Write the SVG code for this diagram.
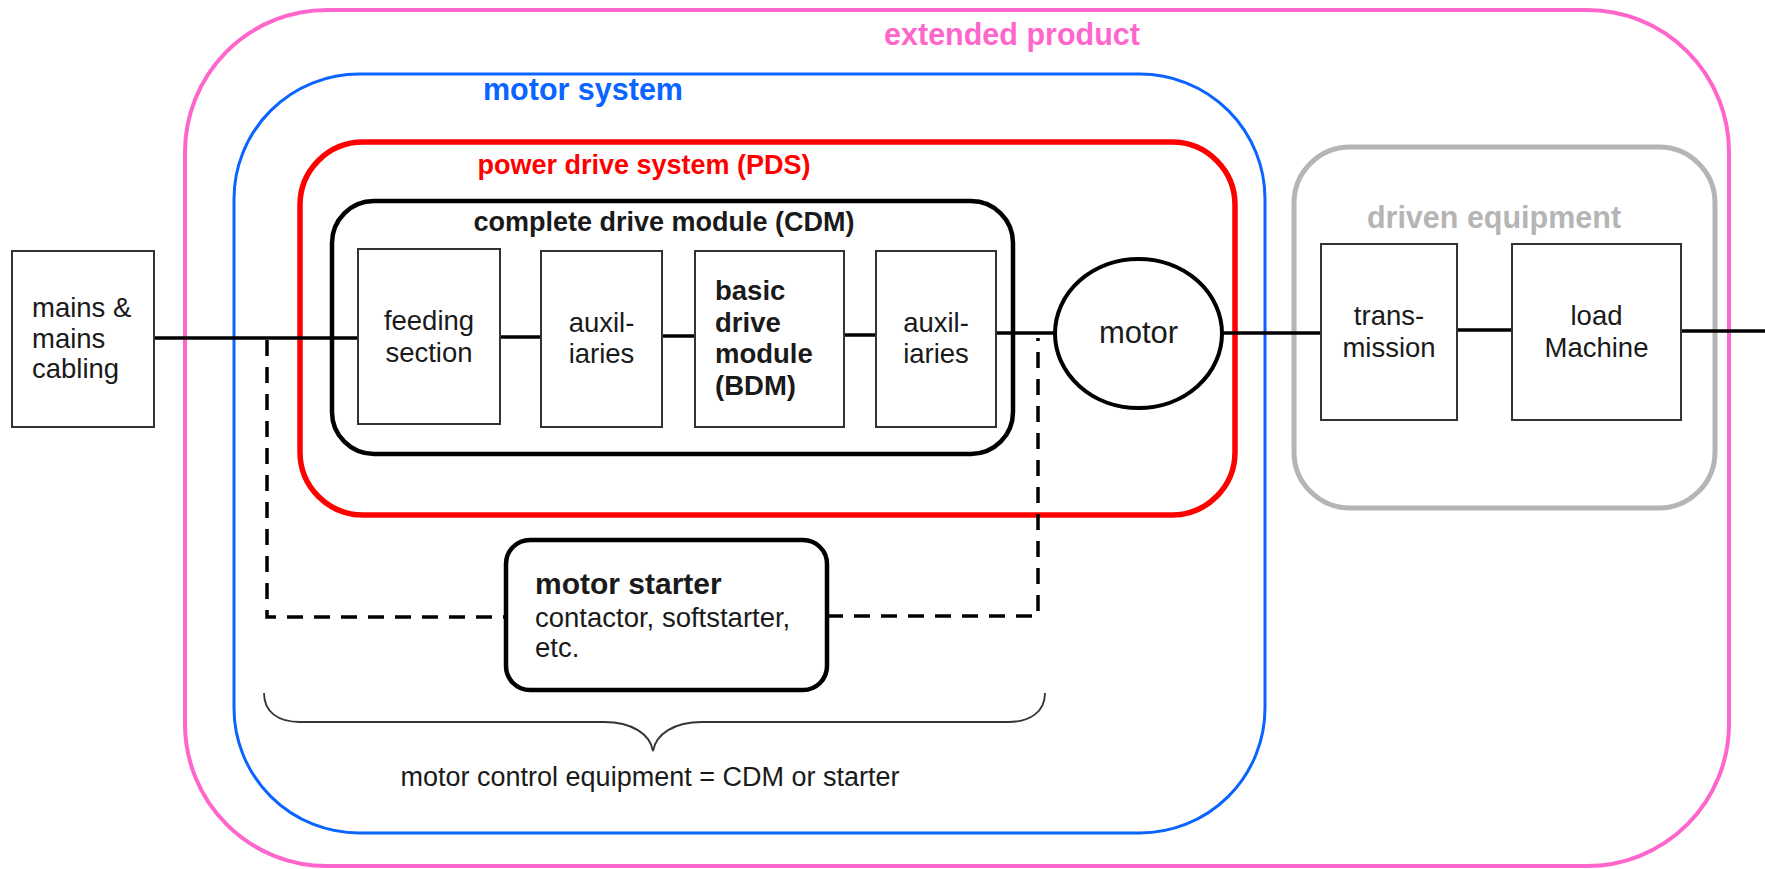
<svg xmlns="http://www.w3.org/2000/svg" width="1765" height="869" viewBox="0 0 1765 869">
  <style>
    text { font-family: "Liberation Sans", Arial, sans-serif; fill: #1a1a1a; }
    .lbl { font-size: 27.5px; }
    .ctr { text-anchor: middle; }
    .bold { font-weight: bold; }
    .title { font-weight: bold; font-size: 30.5px; text-anchor: middle; }
    .sub { font-weight: bold; font-size: 27px; text-anchor: middle; }
    .frame { fill: none; }
    .box { fill: #ffffff; stroke: #333333; stroke-width: 2; }
    .wire { stroke: #000000; stroke-width: 3.5; fill: none; }
    .dash { stroke: #000000; stroke-width: 3.5; fill: none; stroke-dasharray: 16 11; }
  </style>

  <rect width="1765" height="869" fill="#ffffff"/>

  <!-- enclosing system boundaries -->
  <g id="extended-product">
    <rect class="frame" x="185" y="10" width="1544" height="856" rx="142" stroke="#ff66cc" stroke-width="4"/>
    <text class="title" x="1012" y="45" style="fill:#ff66cc">extended product</text>
  </g>

  <g id="motor-system">
    <rect class="frame" x="234" y="74" width="1031" height="759" rx="125" stroke="#0a64ff" stroke-width="3"/>
    <text class="title" x="583" y="100" style="fill:#0a64ff">motor system</text>
  </g>

  <g id="driven-equipment">
    <rect class="frame" x="1294" y="147" width="421" height="361" rx="56" stroke="#b5b5b5" stroke-width="5"/>
    <text class="title" x="1494" y="228" style="fill:#b5b5b5">driven equipment</text>
  </g>

  <g id="power-drive-system">
    <rect class="frame" x="300" y="142" width="935" height="373" rx="63" stroke="#ff0000" stroke-width="5.5"/>
    <text class="sub" x="644" y="174" style="fill:#ff0000">power drive system (PDS)</text>
  </g>

  <!-- connectors: power line and starter bypass -->
  <g id="connectors">
    <line class="wire" x1="154" y1="338" x2="358" y2="338"/>
    <line class="wire" x1="500" y1="337" x2="541" y2="337"/>
    <line class="wire" x1="662" y1="336" x2="695" y2="336"/>
    <line class="wire" x1="844" y1="335" x2="876" y2="335"/>
    <line class="wire" x1="996" y1="333" x2="1055" y2="333"/>
    <line class="wire" x1="1222" y1="333" x2="1321" y2="333"/>
    <line class="wire" x1="1457" y1="330" x2="1512" y2="330" stroke-width="5"/>
    <line class="wire" x1="1681" y1="331" x2="1765" y2="331"/>
    <polyline class="dash" points="267,340 267,617 506,617"/>
    <polyline class="dash" points="827,616 1038,616 1038,338"/>
  </g>

  <g id="complete-drive-module">
    <rect class="frame" x="332" y="201" width="681" height="253" rx="42" stroke="#000000" stroke-width="4.5"/>
    <text class="sub" x="664" y="231">complete drive module (CDM)</text>
  </g>

  <g id="mains">
    <rect class="box" x="12" y="251" width="142" height="176"/>
    <text class="lbl" x="32" y="317">mains &amp;</text>
    <text class="lbl" x="32" y="348">mains</text>
    <text class="lbl" x="32" y="378">cabling</text>
  </g>

  <g id="feeding-section">
    <rect class="box" x="358" y="249" width="142" height="175"/>
    <text class="lbl ctr" x="429" y="330">feeding</text>
    <text class="lbl ctr" x="429" y="362">section</text>
  </g>

  <g id="auxiliaries-1">
    <rect class="box" x="541" y="251" width="121" height="176"/>
    <text class="lbl ctr" x="601.5" y="332">auxil-</text>
    <text class="lbl ctr" x="601.5" y="363">iaries</text>
  </g>

  <g id="basic-drive-module">
    <rect class="box" x="695" y="251" width="149" height="176"/>
    <text class="lbl bold" x="715" y="300">basic</text>
    <text class="lbl bold" x="715" y="332">drive</text>
    <text class="lbl bold" x="715" y="363">module</text>
    <text class="lbl bold" x="715" y="395">(BDM)</text>
  </g>

  <g id="auxiliaries-2">
    <rect class="box" x="876" y="251" width="120" height="176"/>
    <text class="lbl ctr" x="936" y="332">auxil-</text>
    <text class="lbl ctr" x="936" y="363">iaries</text>
  </g>

  <g id="motor">
    <ellipse cx="1138.5" cy="333.5" rx="83.5" ry="74.5" fill="#ffffff" stroke="#000000" stroke-width="4"/>
    <text class="ctr" x="1138.5" y="343" style="font-size:31px">motor</text>
  </g>

  <g id="transmission">
    <rect class="box" x="1321" y="244" width="136" height="176"/>
    <text class="lbl ctr" x="1389" y="325">trans-</text>
    <text class="lbl ctr" x="1389" y="357">mission</text>
  </g>

  <g id="load-machine">
    <rect class="box" x="1512" y="244" width="169" height="176"/>
    <text class="lbl ctr" x="1596.5" y="325">load</text>
    <text class="lbl ctr" x="1596.5" y="357">Machine</text>
  </g>

  <g id="motor-starter">
    <rect x="506" y="540" width="321" height="150" rx="24" fill="#ffffff" stroke="#000000" stroke-width="4.5"/>
    <text class="bold" x="535" y="594" style="font-size:30px">motor starter</text>
    <text class="lbl" x="535" y="627">contactor, softstarter,</text>
    <text class="lbl" x="535" y="657">etc.</text>
  </g>

  <g id="motor-control-equipment">
    <path d="M264 693 C264 712 278 722 300 722 L604 722 C632 722 650 734 653 751 C656 734 674 722 702 722 L1008 722 C1030 722 1045 712 1045 693" fill="none" stroke="#333333" stroke-width="1.8"/>
    <text class="ctr" x="650" y="786" style="font-size:27px">motor control equipment = CDM or starter</text>
  </g>
</svg>
